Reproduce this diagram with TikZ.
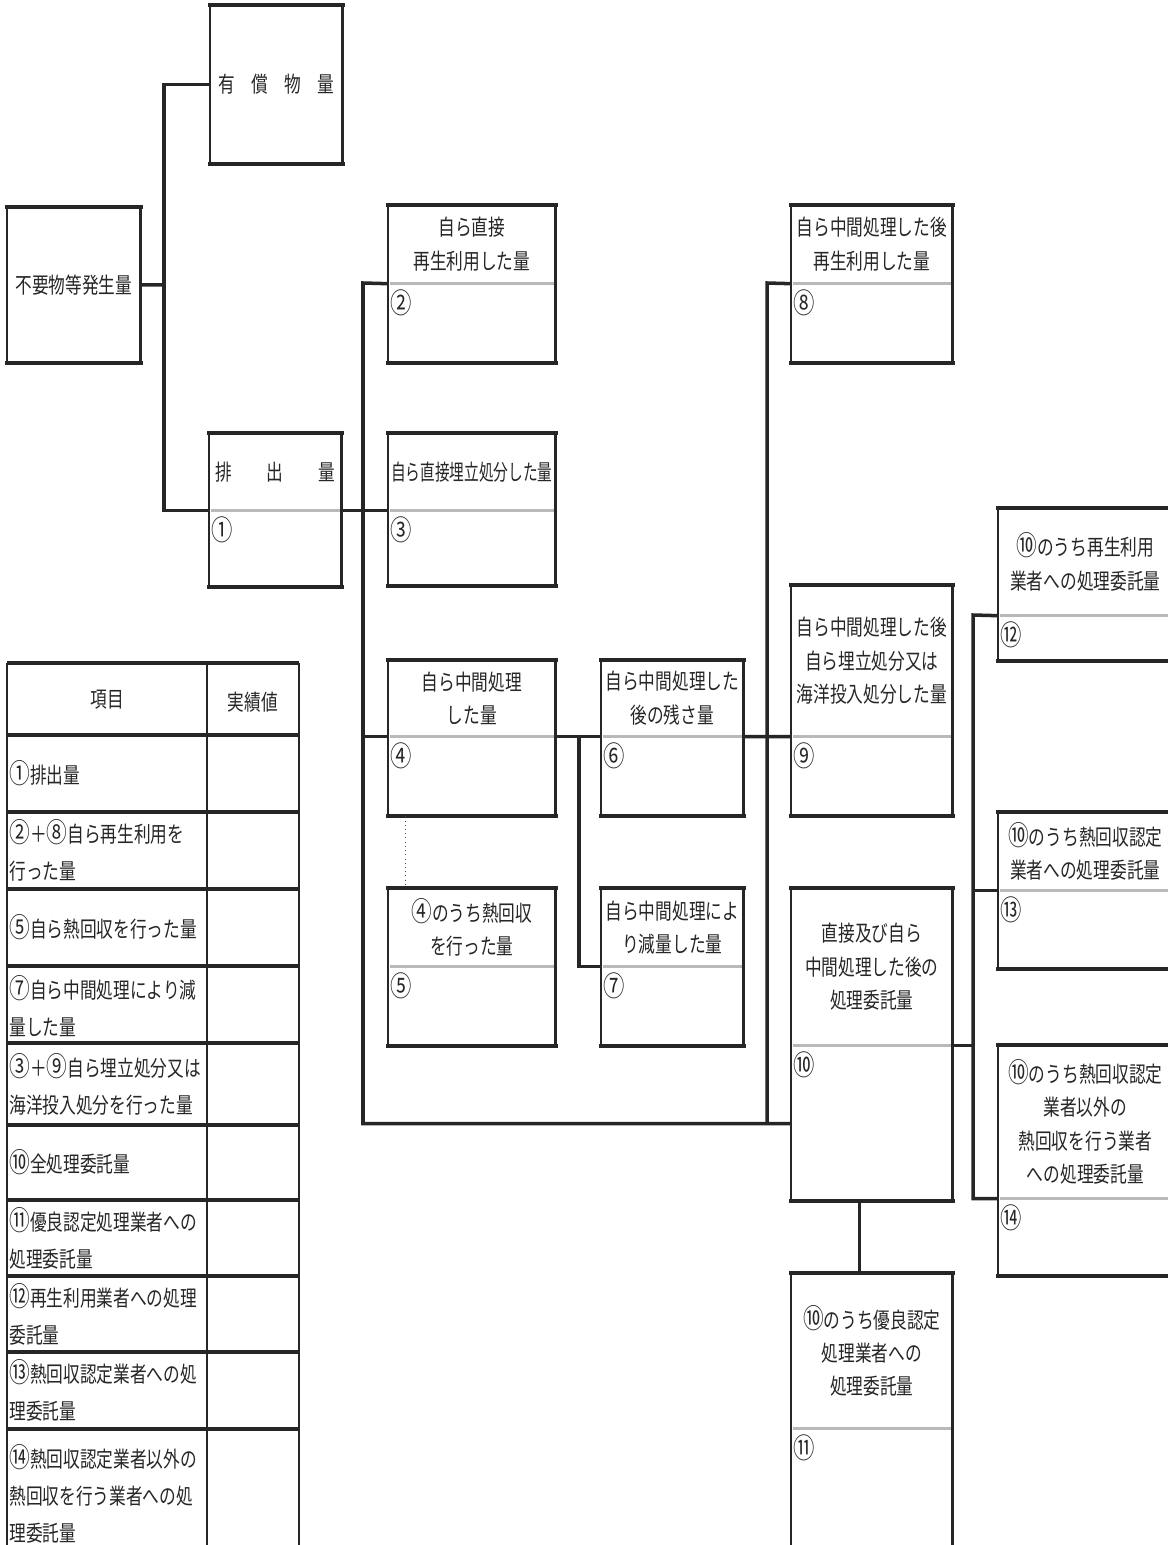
\documentclass[tikz,border=0pt]{standalone}
\usepackage{fontspec}
\setmainfont{Noto Sans CJK JP}[FakeStretch=0.76]
\usepackage{graphicx}
\usepackage{tikz}
\usetikzlibrary{positioning}

% circled numbers a little larger, as printed
\newcommand{\cnum}[1]{{\fontsize{15.5}{15}\selectfont #1}}

\tikzset{
    frame/.style={draw=black!85, line width=1.6pt},
    edge/.style={draw=black!85, line width=2.4pt, line cap=rect},
    divider/.style={draw=gray!55, line width=1.8pt},
    link/.style={draw=black!85, line width=2pt},
    rule/.style={draw=black!85, line width=1.8pt},
    head/.style={anchor=north west, inner sep=0pt, align=center},
    valbox/.style={inner sep=0pt},
    num/.style={anchor=north west, inner xsep=1pt, inner ysep=3pt, font=\fontsize{16}{16}\selectfont},
    cell/.style={anchor=west, inner sep=0pt, align=left, font=\fontsize{12.5}{21}\selectfont}
}

\begin{document}
\begin{tikzpicture}[
    x=0.02cm, y=-0.02cm,
    every node/.style={text=black!85, font=\fontsize{12.5}{19}\selectfont}
]
    \useasboundingbox (0,0) rectangle (1168,1545);
    \clip (0,0) rectangle (1168,1545);

    % 1. Generation and its first split
    \node[head, minimum width=2.64cm, minimum height=3.16cm] (paid) at (210,5) {\makebox[2.3cm]{有\hfill 償\hfill 物\hfill 量}};
    \node[head, minimum width=2.66cm, minimum height=3.1cm] (gen) at (7,207) {不要物等発生量};

    \node[head, minimum width=2.64cm, minimum height=1.54cm] (t1) at (209,433) {\makebox[2.4cm]{排\hfill 出\hfill 量}};
    \node[valbox, minimum width=2.64cm, minimum height=1.52cm, below=0pt of t1, label={[num]north west:①}] (v1) {};

    % 2. Direct recycling / landfill and own intermediate treatment
    \node[head, minimum width=3.34cm, minimum height=1.56cm] (t2) at (388,205) {自ら直接\\再生利用した量};
    \node[valbox, minimum width=3.34cm, minimum height=1.58cm, below=0pt of t2, label={[num]north west:②}] (v2) {};

    \node[head, minimum width=3.34cm, minimum height=1.54cm] (t3) at (388,433) {\scalebox{0.88}[1]{自ら直接埋立処分した量}};
    \node[valbox, minimum width=3.34cm, minimum height=1.5cm, below=0pt of t3, label={[num]north west:③}] (v3) {};

    \node[head, minimum width=3.34cm, minimum height=1.52cm] (t4) at (388,660) {自ら中間処理\\した量};
    \node[valbox, minimum width=3.34cm, minimum height=1.58cm, below=0pt of t4, label={[num]north west:④}] (v4) {};

    \node[head, minimum width=3.34cm, minimum height=1.56cm] (t5) at (388,888) {\cnum{④}のうち熱回収\\を行った量};
    \node[valbox, minimum width=3.34cm, minimum height=1.58cm, below=0pt of t5, label={[num]north west:⑤}] (v5) {};

    \node[head, minimum width=2.84cm, minimum height=1.52cm] (t6) at (601,660) {自ら中間処理した\\後の残さ量};
    \node[valbox, minimum width=2.84cm, minimum height=1.58cm, below=0pt of t6, label={[num]north west:⑥}] (v6) {};

    \node[head, minimum width=2.84cm, minimum height=1.56cm] (t7) at (601,888) {自ら中間処理によ\\り減量した量};
    \node[valbox, minimum width=2.84cm, minimum height=1.58cm, below=0pt of t7, label={[num]north west:⑦}] (v7) {};

    % 3. After intermediate treatment
    \node[head, minimum width=3.22cm, minimum height=1.56cm] (t8) at (791,205) {自ら中間処理した後\\再生利用した量};
    \node[valbox, minimum width=3.22cm, minimum height=1.58cm, below=0pt of t8, label={[num]north west:⑧}] (v8) {};

    \node[head, minimum width=3.22cm, minimum height=3.02cm] (t9) at (791,585) {自ら中間処理した後\\自ら埋立処分又は\\海洋投入処分した量};
    \node[valbox, minimum width=3.22cm, minimum height=1.58cm, below=0pt of t9, label={[num]north west:⑨}] (v9) {};

    \node[head, minimum width=3.22cm, minimum height=3.14cm] (t10) at (791,888) {直接及び自ら\\中間処理した後の\\処理委託量};
    \node[valbox, minimum width=3.22cm, minimum height=3.1cm, below=0pt of t10, label={[num]north west:⑩}] (v10) {};

    \node[head, minimum width=3.22cm, minimum height=3.1cm] (t11) at (791,1273) {\cnum{⑩}のうち優良認定\\処理業者への\\処理委託量};
    \node[valbox, minimum width=3.22cm, minimum height=2.84cm, below=0pt of t11, label={[num]north west:⑪}] (v11) {};

    % 4. Breakdown of the consigned amount
    \node[head, minimum width=3.48cm, minimum height=2.14cm] (t12) at (998,508) {\cnum{⑩}のうち再生利用\\業者への処理委託量};
    \node[valbox, minimum width=3.48cm, minimum height=0.9cm, below=0pt of t12, label={[num]north west:⑫}] (v12) {};

    \node[head, minimum width=3.48cm, minimum height=1.56cm] (t13) at (998,812) {\cnum{⑩}のうち熱回収認定\\業者への処理委託量};
    \node[valbox, minimum width=3.48cm, minimum height=1.56cm, below=0pt of t13, label={[num]north west:⑬}] (v13) {};

    \node[head, minimum width=3.48cm, minimum height=3.06cm] (t14) at (998,1045) {\cnum{⑩}のうち熱回収認定\\業者以外の\\熱回収を行う業者\\への処理委託量};
    \node[valbox, minimum width=3.48cm, minimum height=1.54cm, below=0pt of t14, label={[num]north west:⑭}] (v14) {};

    % Box frames, heavy top and bottom, grey divider
    \foreach \b in {paid, gen} {
        \draw[frame] (\b.north west) rectangle (\b.south east);
        \draw[edge] (\b.north west) -- (\b.north east) (\b.south west) -- (\b.south east);
    }
    \foreach \b in {1,...,14} {
        \draw[frame] (t\b.north west) rectangle (v\b.south east);
        \draw[edge] (t\b.north west) -- (t\b.north east) (v\b.south west) -- (v\b.south east);
        \draw[divider] ([xshift=1pt]t\b.south west) -- ([xshift=-1pt]t\b.south east);
    }

    % 5. Connectors
    \coordinate (j0) at (164,285);
    \coordinate (jA) at (363,283);
    \coordinate (jB) at (579,736);
    \coordinate (jC) at (767,283);
    \coordinate (jD) at (973,615);

    \draw[link] (gen.east) -- (j0);
    \draw[link] (paid.west) -| (j0) |- (t1.south west);
    \draw[link] (t1.south east) -- (t3.south west);
    \draw[link] (t2.south west) -- (jA) |- (v10.west);
    \draw[link] (t4.south west) -- (t4.south west -| jA);
    \draw[link] (t4.south east) -- (t6.south west);
    \draw[link] (jB) |- (t7.south west);
    \draw[link] (t6.south east) -- (t9.south west);
    \draw[link] (t8.south west) -- (jC) -- (jC |- v10.west);
    \draw[link] (t10.south east) -- (t10.south east -| jD);
    \draw[link] (t12.south west) -- (jD) |- (t14.south west);
    \draw[link] (t13.south west) -- (t13.south west -| jD);
    \draw[link] ([xshift=-0.25cm]v10.south) -- ([xshift=-0.25cm]t11.north);
    \draw[black!70, dotted, thin] ([xshift=0.34cm]v4.south west) -- ([xshift=0.34cm]t5.north west);

    % 6. Summary table
    \foreach \y in {663,735,812,889,966,1043,1125,1200,1276,1352,1429} {
        \draw[rule] (7,\y) -- (299,\y);
    }
    \foreach \x in {7,207,299} {
        \draw[rule, line width=1.4pt] (\x,663) -- (\x,1560);
    }
    \node (hitem) at (107,700) {項目};
    \node (hval) at (253,702) {実績値};
    \node[cell] (r1) at (9,773) {\cnum{①}排出量};
    \node[cell] (r2) at (9,850) {\cnum{②}＋\cnum{⑧}自ら再生利用を\\行った量};
    \node[cell] (r3) at (9,927) {\cnum{⑤}自ら熱回収を行った量};
    \node[cell] (r4) at (9,1006) {\cnum{⑦}自ら中間処理により減\\量した量};
    \node[cell] (r5) at (9,1084) {\cnum{③}＋\cnum{⑨}自ら埋立処分又は\\海洋投入処分を行った量};
    \node[cell] (r6) at (9,1162) {\cnum{⑩}全処理委託量};
    \node[cell] (r7) at (9,1238) {\cnum{⑪}優良認定処理業者への\\処理委託量};
    \node[cell] (r8) at (9,1314) {\cnum{⑫}再生利用業者への処理\\委託量};
    \node[cell] (r9) at (9,1390) {\cnum{⑬}熱回収認定業者への処\\理委託量};
    \node[cell] (r10) at (9,1494) {\cnum{⑭}熱回収認定業者以外の\\熱回収を行う業者への処\\理委託量};

\end{tikzpicture}
\end{document}
